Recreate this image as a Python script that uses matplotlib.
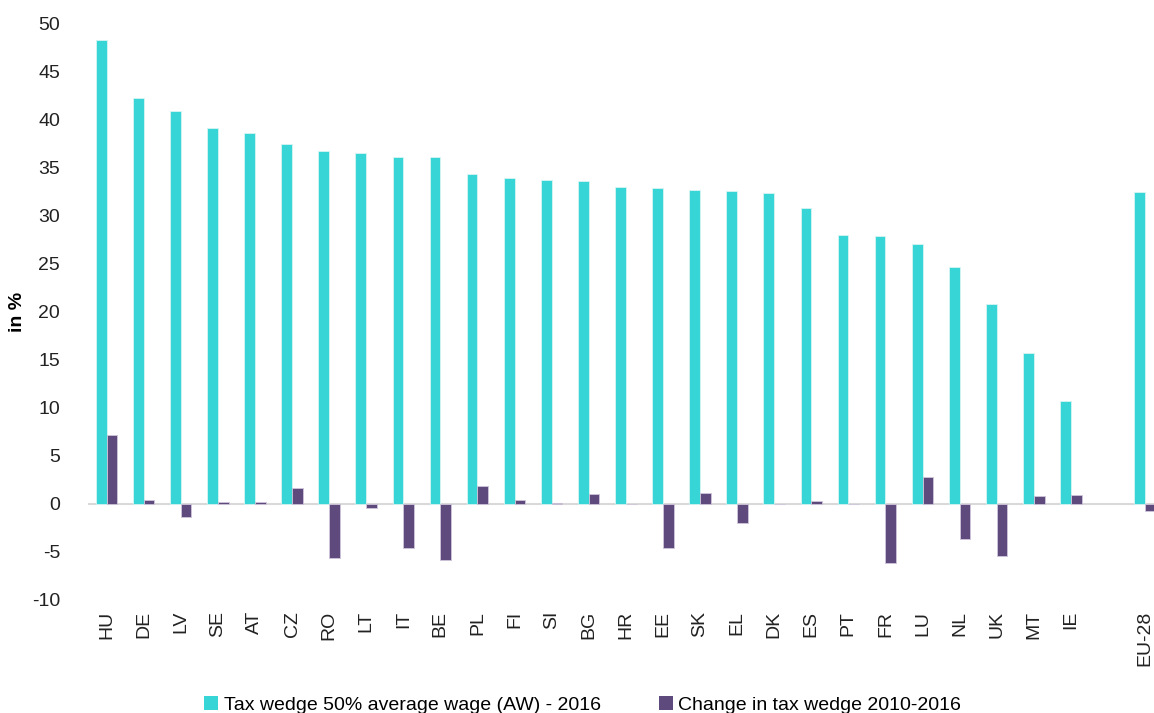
import matplotlib
matplotlib.use("Agg")
import matplotlib.pyplot as plt
import numpy as np
from matplotlib.patches import Patch

countries = ["HU", "DE", "LV", "SE", "AT", "CZ", "RO", "LT", "IT", "BE", "PL", "FI", "SI", "BG",
             "HR", "EE", "SK", "EL", "DK", "ES", "PT", "FR", "LU", "NL", "UK", "MT", "IE", "", "EU-28"]
tax_wedge_2016 = [48.2, 42.2, 40.9, 39.1, 38.6, 37.4, 36.7, 36.5, 36.1, 36.1, 34.3, 33.9, 33.7, 33.6,
                  32.9, 32.8, 32.6, 32.5, 32.3, 30.8, 28.0, 27.9, 27.0, 24.6, 20.8, 15.7, 10.7, np.nan, 32.4]
change_2010_2016 = [7.2, 0.4, -1.4, 0.2, 0.2, 1.6, -5.6, -0.4, -4.6, -5.8, 1.9, 0.35, 0.1, 1.0,
                    0.0, -4.6, 1.1, -2.0, 0.0, 0.3, 0.0, -6.2, 2.8, -3.7, -5.4, 0.8, 0.9, np.nan, -0.7]
legend_labels = ["Tax wedge 50% average wage (AW) - 2016", "Change in tax wedge 2010-2016"]
yticks = list(range(-10, 55, 5))

teal = "#37D5D6"
purple = "#5E4A7C"

plt.rcParams['font.family'] = ["Liberation Sans", "DejaVu Sans"]

fig = plt.figure(figsize=(11.54, 7.13), dpi=100)
ax = fig.add_axes([88/1154, 1 - 600/713, 1 - 88/1154, (600-23)/713])

x = np.arange(len(countries))
w = 0.29
ax.bar(x - w/2, tax_wedge_2016, width=w, color=teal, edgecolor="#d8f4f4", linewidth=0.6, zorder=3)
ax.bar(x + w/2, change_2010_2016, width=w, color=purple, edgecolor="#cfc6da", linewidth=0.6, zorder=3)

ax.axhline(0, color="#d9d9d9", linewidth=1.5, zorder=2)
ax.set_ylim(-10, 50)
ax.set_xlim(-0.5, 28.24)
ax.set_yticks(yticks)
ax.set_yticklabels([str(t) for t in yticks], fontsize=14, color="#222222")
ax.set_xticks(x)
ax.set_xticklabels(countries, rotation=90, fontsize=14, color="#222222")
ax.tick_params(axis="both", length=0, pad=8)
ax.tick_params(axis="y", pad=20)
for s in ax.spines.values():
    s.set_visible(False)
ax.set_ylabel("in %", fontsize=14, fontweight="bold")
ax.yaxis.set_label_coords(-62/1066, 0.5)

handles = [Patch(facecolor=teal, edgecolor="none"), Patch(facecolor=purple, edgecolor="none")]
fig.legend(handles, legend_labels, loc="center", bbox_to_anchor=(0.505, 1 - 705/713), ncol=2,
           frameon=False, fontsize=14, handlelength=0.7, handleheight=0.7, handletextpad=0.3,
           columnspacing=3.0)

fig.savefig("out.png", dpi=100)
